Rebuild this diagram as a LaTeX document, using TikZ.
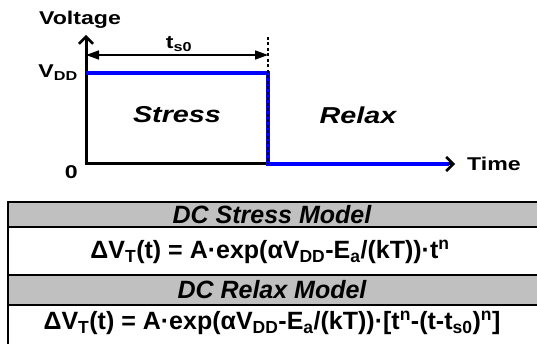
\documentclass[tikz,border=0pt]{standalone}
\usepackage{fontspec}
\setmainfont{Liberation Sans}
\newfontfamily\plotfont[FakeStretch=1.25]{Liberation Sans}
\usetikzlibrary{arrows.meta}
\definecolor{hdrgray}{RGB}{192,192,192}
\definecolor{pulseblue}{RGB}{0,0,255}
\tikzset{
  axisline/.style={line width=3pt, -{Straight Barb[length=7pt,width=14pt,line width=2.5pt]}},
  pulseline/.style={pulseblue, line width=3.5pt},
  plotlabel/.style={inner sep=0pt, font=\plotfont\bfseries\fontsize{18.5}{20}\selectfont},
  regionlabel/.style={inner sep=0pt, font=\plotfont\bfseries\itshape\fontsize{23}{25}\selectfont},
  hdrcell/.style={fill=hdrgray, draw=black, line width=1.2pt},
  bodycell/.style={fill=white, draw=black, line width=1.2pt},
  hdrtext/.style={inner sep=0pt, font=\bfseries\itshape\fontsize{25}{27}\selectfont},
  eqtext/.style={inner sep=0pt, font=\bfseries\fontsize{25}{27}\selectfont},
}

\begin{document}
\begin{tikzpicture}[x=1pt, y=-1pt]
                \useasboundingbox (0,0) rectangle (537,344);

                % axes and pulse
                \coordinate (origin) at (86,164);
                \coordinate (ytop)   at (86,35);
                \coordinate (xend)   at (455,164);
                \coordinate (vhigh)  at (86,73);
                \coordinate (edgetop) at (268,73);
                \coordinate (edgebot) at (268,164);
                \coordinate (pulseend) at (449,164);
                \coordinate (marktop) at (268,37);
                \coordinate (dimleft)  at (86,55);
                \coordinate (dimright) at (268,55);

                \draw[axisline] ([yshift=1.5pt]origin) -- (ytop);
                \draw[axisline] ([xshift=-1.5pt]origin) -- (xend);
                \draw[pulseline] (vhigh) -- (edgetop) -- (edgebot) -- (pulseend);
                \draw[black, line width=1.5pt, dash pattern=on 3pt off 2.5pt] (marktop) -- (edgebot);
                \draw[black, line width=1.5pt, {Triangle[length=13pt,width=9pt]}-{Triangle[length=13pt,width=9pt]}] (dimleft) -- (dimright);

                \node[plotlabel] (voltage) at (80,20) {Voltage};
                \node[plotlabel] (tszero)  at (179,44) {t\textsubscript{s0}};
                \node[plotlabel, anchor=east] (vdd) at (78,73) {V\textsubscript{DD}};
                \node[plotlabel, anchor=east] (zero) at (78,172) {0};
                \node[plotlabel, anchor=west] (time) at (467,164) {Time};
                \node[regionlabel] (stress) at (177,115) {Stress};
                \node[regionlabel] (relax)  at (358,115) {Relax};

                % model table
                \begin{scope}
                \clip (0,0) rectangle (537,344);
                \draw[hdrcell]  (8,202) rectangle (560,227);
                \draw[bodycell] (8,227) rectangle (560,275);
                \draw[hdrcell]  (8,275) rectangle (560,305);
                \draw[bodycell] (8,305) rectangle (560,360);
                \end{scope}

                \node[hdrtext] (stresshdr) at (272,214.5) {DC Stress Model};
                \node[eqtext]  (stresseq)  at (270,252) {ΔV\textsubscript{T}(t) = A·exp(αV\textsubscript{DD}-E\textsubscript{a}/(kT))·t\textsuperscript{n}};
                \node[hdrtext] (relaxhdr)  at (272,290) {DC Relax Model};
                \node[eqtext]  (relaxeq)   at (272,323) {ΔV\textsubscript{T}(t) = A·exp(αV\textsubscript{DD}-E\textsubscript{a}/(kT))·[t\textsuperscript{n}-(t-t\textsubscript{s0})\textsuperscript{n}]};
            \end{tikzpicture}
\end{document}
